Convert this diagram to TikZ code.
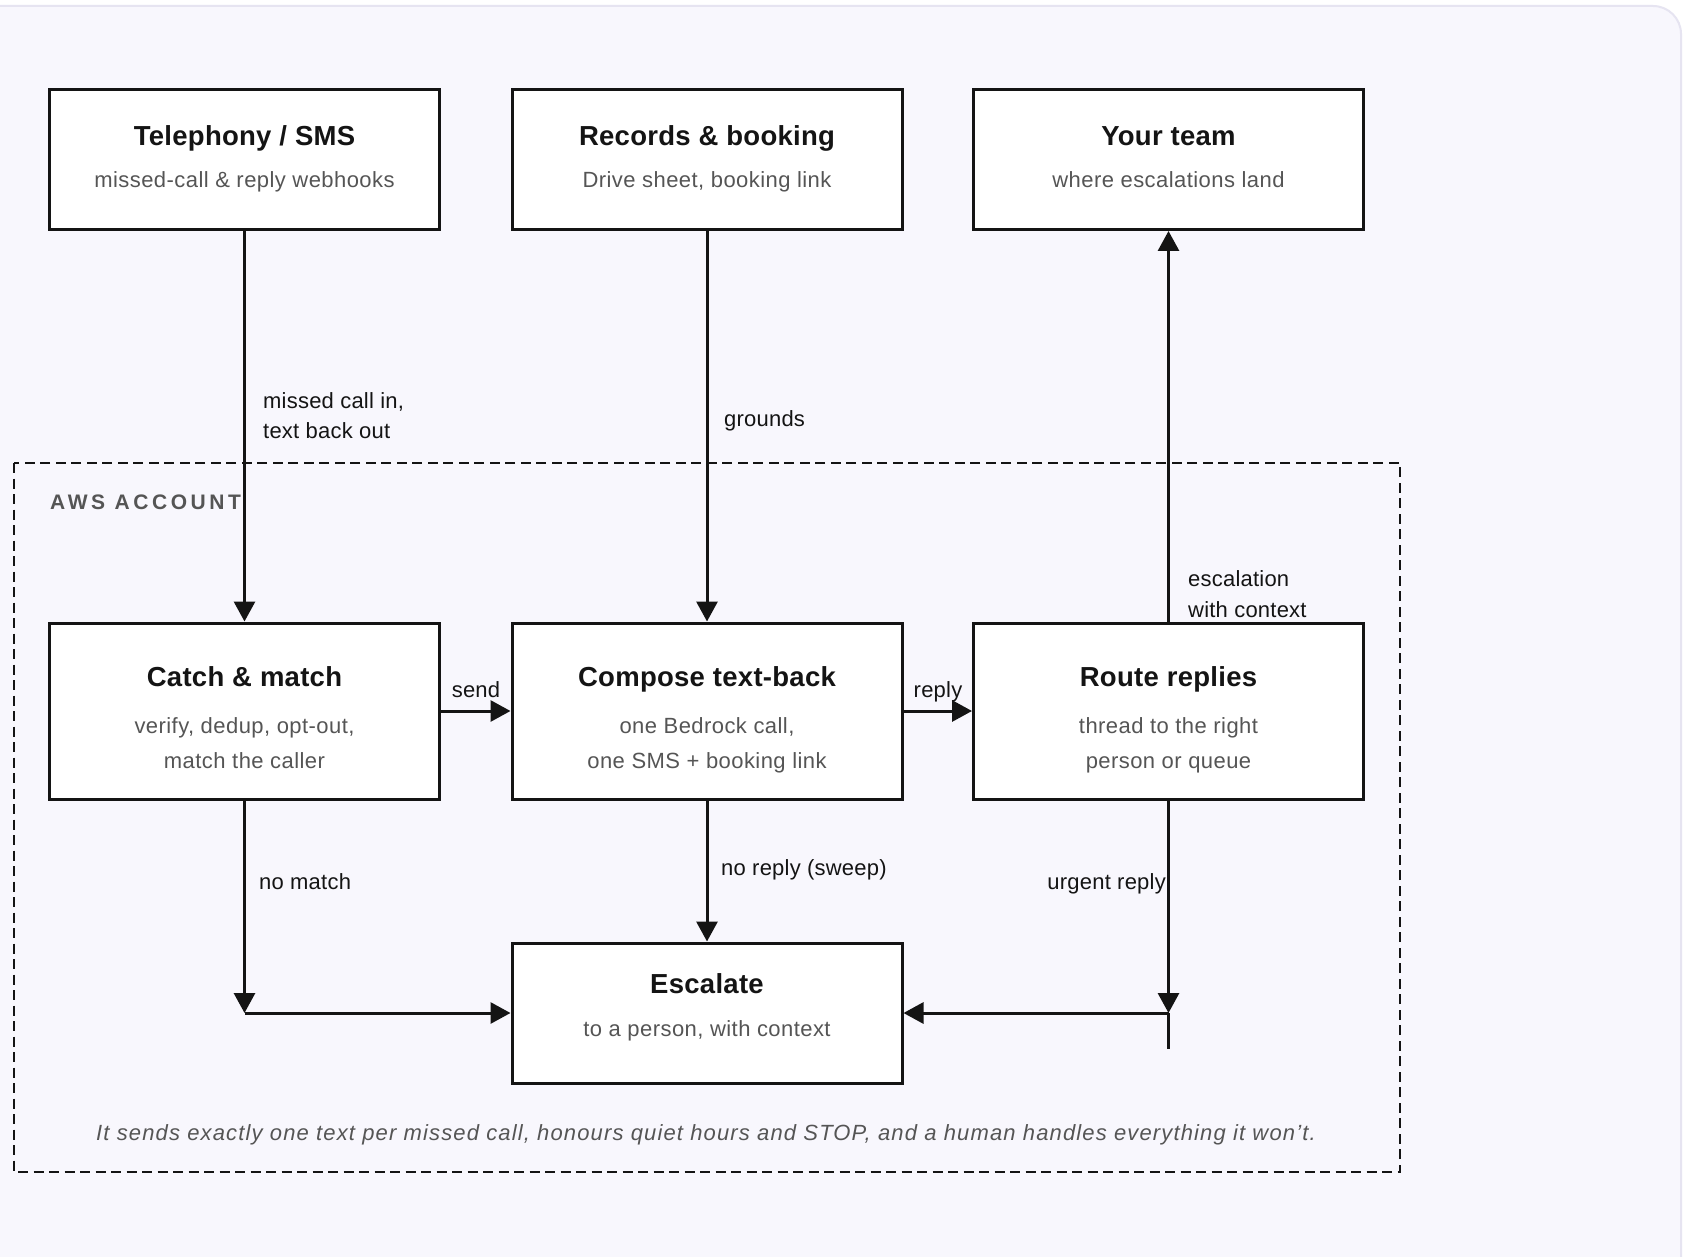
\documentclass[tikz,border=0pt]{standalone}
\usepackage{fontspec}
\setmainfont{Liberation Sans}
\usetikzlibrary{arrows.meta,positioning}
\definecolor{bgpage}{HTML}{F8F7FD}
\definecolor{framegray}{HTML}{E6E4F1}
\definecolor{ink}{HTML}{141414}
\definecolor{subgray}{HTML}{555555}
\begin{document}
\begin{tikzpicture}[x=1pt,y=-1pt,
  box/.style={draw=ink,line width=3pt,fill=white,minimum width=390pt,inner sep=0pt},
  toprow/.style={box,minimum height=140pt},
  midrow/.style={box,minimum height=176pt},
  boxtitle/.style={font=\fontsize{27.5}{32}\selectfont\bfseries\addfontfeatures{LetterSpace=1},text=ink,inner sep=0pt,anchor=base},
  boxsub/.style={font=\fontsize{22}{30}\selectfont\addfontfeatures{LetterSpace=2},text=subgray,inner sep=0pt,anchor=base},
  lbl/.style={font=\fontsize{22}{30}\selectfont\addfontfeatures{LetterSpace=1},text=ink,inner sep=0pt},
  acctlbl/.style={font=\fontsize{21}{25}\selectfont\bfseries\addfontfeatures{LetterSpace=17},text=subgray,inner sep=0pt},
  foot/.style={font=\fontsize{22}{30}\selectfont\itshape\addfontfeatures{LetterSpace=5.2},text=subgray,inner sep=0pt},
  arr/.style={draw=ink,line width=3pt,-{Triangle[length=20pt,width=21pt]}},
  ln/.style={draw=ink,line width=3pt},
  acct/.style={draw=ink,line width=2.5pt,dash pattern=on 10pt off 5.5pt}]

\useasboundingbox (0,0) rectangle (1683,1257);
\fill[white] (0,0) rectangle (1683,1257);
\draw[framegray,line width=2pt,fill=bgpage,rounded corners=28pt] (-40,6) rectangle (1681,1300);

\draw[acct] (14,463) rectangle (1400,1172);
\node[acctlbl,anchor=base west] (acctT) at (50,509) {AWS ACCOUNT};

\node[toprow] (tel) at (244.5,159.5) {};
\node[toprow] (rec) at (707,159.5) {};
\node[toprow] (team) at (1168.5,159.5) {};
\node[midrow] (catch) at (244.5,711) {};
\node[midrow] (comp) at (707,711) {};
\node[midrow] (route) at (1168.5,711) {};
\node[toprow] (esc) at (707,1013) {};

\node[boxtitle] (telT) at (244.5,146) {Telephony / SMS};
\node[boxsub] (telS) at (244.5,188) {missed-call \& reply webhooks};
\node[boxtitle] (recT) at (707,146) {Records \& booking};
\node[boxsub] (recS) at (707,188) {Drive sheet, booking link};
\node[boxtitle] (teamT) at (1168.5,146) {Your team};
\node[boxsub] (teamS) at (1168.5,188) {where escalations land};

\node[boxtitle] (catchT) at (244.5,686) {Catch \& match};
\node[boxsub] (catchA) at (244.5,733) {verify, dedup, opt-out,};
\node[boxsub] (catchB) at (244.5,768) {match the caller};
\node[boxtitle] (compT) at (707,686) {Compose text-back};
\node[boxsub] (compA) at (707,733) {one Bedrock call,};
\node[boxsub] (compB) at (707,768) {one SMS + booking link};
\node[boxtitle] (routeT) at (1168.5,686) {Route replies};
\node[boxsub] (routeA) at (1168.5,733) {thread to the right};
\node[boxsub] (routeB) at (1168.5,768) {person or queue};

\node[boxtitle] (escT) at (707,993) {Escalate};
\node[boxsub] (escS) at (707,1036) {to a person, with context};

\draw[arr] (tel.south) -- (catch.north);
\draw[arr] (rec.south) -- (comp.north);
\draw[arr] (route.north) -- (team.south);
\draw[arr] (catch.east) -- (comp.west);
\draw[arr] (comp.east) -- (route.west);
\draw[arr] (comp.south) -- (esc.north);

\coordinate (nmCorner) at (catch.south |- esc.west);
\coordinate (urCorner) at (route.south |- esc.east);
\coordinate (urEnd) at (1168.5,1049);
\draw[arr] (catch.south) -- (nmCorner);
\draw[arr] (nmCorner) -- (esc.west);
\draw[arr] (route.south) -- (urCorner);
\draw[ln] (urCorner) -- (urEnd);
\draw[arr] (urCorner) -- (esc.east);

\node[lbl,anchor=base west] (missA) at (263,408) {missed call in,};
\node[lbl,anchor=base west] (missB) at (263,438) {text back out};
\node[lbl,anchor=base west] (grnd) at (724,426) {grounds};
\node[lbl,anchor=base west] (escA) at (1188,586) {escalation};
\node[lbl,anchor=base west] (escB) at (1188,617) {with context};
\node[lbl,anchor=base] (sendL) at (476,697) {send};
\node[lbl,anchor=base] (replyL) at (938,697) {reply};
\node[lbl,anchor=base west] (nomatch) at (259,889) {no match};
\node[lbl,anchor=base west] (noreply) at (721,875) {no reply (sweep)};
\node[lbl,anchor=base east] (urgent) at (1166,889) {urgent reply};

\node[foot,anchor=base] (footer) at (706,1140) {It sends exactly one text per missed call, honours quiet hours and STOP, and a human handles everything it won’t.};

\end{tikzpicture}
\end{document}
